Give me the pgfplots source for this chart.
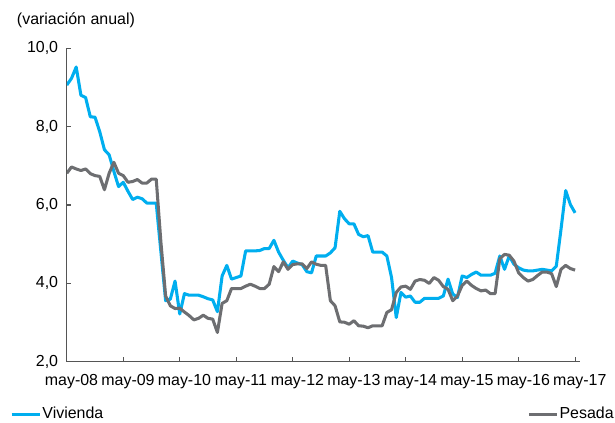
\documentclass[border=0pt]{standalone}
\usepackage{pgfplots}
\pgfplotsset{compat=1.18}
\usetikzlibrary{calc}
\usepackage{fontspec}
\setmainfont{Liberation Sans}
\definecolor{vivienda}{HTML}{00AEEF}
\definecolor{pesada}{HTML}{6D6E71}
\definecolor{axisgray}{HTML}{555555}

% monthly series, may-08 (0) .. may-17 (108)
\pgfplotstableread{
i vivienda pesada
0 9.06 6.81
1 9.23 6.97
2 9.52 6.92
3 8.80 6.88
4 8.74 6.92
5 8.25 6.80
6 8.24 6.75
7 7.87 6.73
8 7.41 6.39
9 7.28 6.81
10 6.86 7.09
11 6.47 6.81
12 6.58 6.75
13 6.35 6.58
14 6.14 6.60
15 6.20 6.65
16 6.16 6.56
17 6.05 6.56
18 6.05 6.66
19 6.05 6.66
20 4.80 5.05
21 3.56 3.68
22 3.60 3.43
23 4.06 3.36
24 3.22 3.37
25 3.74 3.27
26 3.70 3.18
27 3.70 3.07
28 3.70 3.11
29 3.66 3.19
30 3.61 3.11
31 3.58 3.09
32 3.28 2.75
33 4.19 3.49
34 4.46 3.56
35 4.11 3.87
36 4.15 3.87
37 4.19 3.87
38 4.83 3.93
39 4.83 3.98
40 4.83 3.93
41 4.84 3.87
42 4.89 3.87
43 4.89 3.98
44 5.10 4.43
45 4.80 4.30
46 4.59 4.55
47 4.40 4.36
48 4.57 4.48
49 4.52 4.50
50 4.48 4.50
51 4.30 4.38
52 4.27 4.55
53 4.70 4.49
54 4.70 4.46
55 4.70 4.46
56 4.78 3.56
57 4.91 3.43
58 5.84 3.02
59 5.65 3.01
60 5.52 2.96
61 5.52 3.05
62 5.25 2.92
63 5.19 2.91
64 5.22 2.87
65 4.80 2.92
66 4.80 2.92
67 4.80 2.92
68 4.70 3.26
69 4.15 3.33
70 3.13 3.77
71 3.77 3.91
72 3.65 3.93
73 3.68 3.85
74 3.52 4.06
75 3.52 4.10
76 3.62 4.08
77 3.62 4.00
78 3.62 4.15
79 3.62 4.08
80 3.68 3.92
81 4.11 3.85
82 3.73 3.56
83 3.64 3.68
84 4.19 3.95
85 4.15 4.06
86 4.23 3.95
87 4.29 3.87
88 4.21 3.81
89 4.21 3.83
90 4.21 3.74
91 4.26 3.74
92 4.70 4.63
93 4.36 4.74
94 4.70 4.72
95 4.49 4.57
96 4.40 4.27
97 4.34 4.15
98 4.32 4.06
99 4.32 4.10
100 4.34 4.20
101 4.36 4.29
102 4.34 4.29
103 4.32 4.25
104 4.44 3.92
105 5.38 4.36
106 6.37 4.46
107 6.01 4.38
108 5.80 4.34
}\datatable

\begin{document}
\begin{tikzpicture}[font=\fontsize{12}{14}\selectfont]
\begin{axis}[
  name=main,
  scale only axis,
  width=386pt, height=236pt,
  xmin=0, xmax=109,
  ymin=2, ymax=10,
  axis x line*=bottom, axis y line*=left,
  axis line style={axisgray, line width=0.8pt},
  tick style={axisgray, line width=0.8pt},
  tick align=inside,
  major tick length=3.5pt,
  xtick={0,12,...,108},
  xticklabels={},
  extra x ticks={1,13,25,37,49,61,73,85,97,109},
  extra x tick labels={may-08,may-09,may-10,may-11,may-12,may-13,may-14,may-15,may-16,may-17},
  extra x tick style={major tick length=0pt},
  ytick={2,4,...,10},
  /pgf/number format/fixed,
  /pgf/number format/fixed zerofill,
  /pgf/number format/precision=1,
  /pgf/number format/use comma,
  /pgf/number format/assume math mode=true,
  xticklabel style={yshift=-6pt},
  yticklabel style={xshift=-3pt},
  legend columns=2,
  legend cell align=left,
  legend image code/.code={\draw[#1] (0pt,0pt) -- (21pt,0pt);},
  legend style={draw=none, fill=none, at={(axis description cs:-0.111,-0.14)}, anchor=north west,
    inner sep=0pt, nodes={inner sep=1pt},
    /tikz/column 2/.style={column sep=318pt}},
]
\addplot[vivienda, line width=2.3pt, line join=round] table[x=i, y=vivienda] {\datatable};
\addlegendentry{Vivienda}
\addplot[pesada, line width=2.3pt, line join=round] table[x=i, y=pesada] {\datatable};
\addlegendentry{Pesada}
\end{axis}
\node[anchor=west] at ($(main.south west)+(-41pt,257pt)$) {(variación anual)};
\useasboundingbox ($(main.south west)+(-50.25pt,-43.5pt)$) rectangle ($(main.south west)+(411pt,272.25pt)$);
\end{tikzpicture}
\end{document}
